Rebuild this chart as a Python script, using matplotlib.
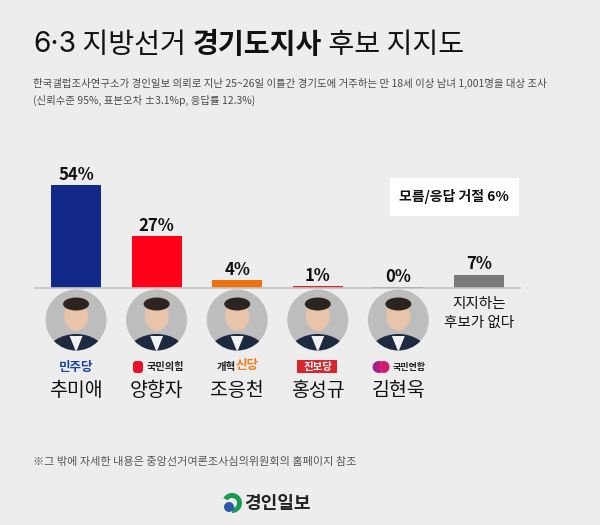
import matplotlib
matplotlib.use("Agg")
import matplotlib.pyplot as plt
import matplotlib.patches as patches
from matplotlib.transforms import blended_transform_factory

plt.rcParams['font.family'] = ['Noto Sans CJK KR', 'DejaVu Sans']

# 데이터
candidates = ['추미애', '양향자', '조응천', '홍성규', '김현욱', '지지하는\n후보가 없다']
support = [54, 27, 4, 1, 0, 7]
bar_colors = ['#13298a', '#ff0019', '#ec7410', '#d8262f', '#5b5f8c', '#7a7a7a']
parties = ['민주당', '국민의힘', '개혁신당', '진보당', '국민연합', '']
unknown_label = '모름/응답 거절 6%'

title_parts = [('6·3', 'normal'), (' 지방선거 ', 'normal'), ('경기도지사', 'bold'), (' 후보 지지도', 'normal')]
subtitle = ('한국갤럽조사연구소가 경인일보 의뢰로 지난 25~26일 이틀간 경기도에 거주하는 만 18세 이상 남녀 1,001명을 대상 조사\n'
            '(신뢰수준 95%, 표본오차 ±3.1%p, 응답률 12.3%)')
footnote = '※그 밖에 자세한 내용은 중앙선거여론조사심의위원회의 홈페이지 참조'

W, H = 600, 525
BG = '#ededed'
fig = plt.figure(figsize=(W / 100, H / 100), dpi=100, facecolor=BG)


def fy(y):
    # 위에서부터의 픽셀 -> figure 비율
    return 1 - y / H


# 제목
renderer = fig.canvas.get_renderer()
x0 = 33
for txt, wt in title_parts:
    fam = ['Inter', 'Noto Sans CJK KR'] if txt == '6·3' else ['Noto Sans CJK KR', 'DejaVu Sans']
    t = fig.text(x0 / W, fy(45), txt, fontsize=20.3, fontweight=wt, color='#111111', va='center', ha='left',
                 family=fam)
    bb = t.get_window_extent(renderer)
    x0 += bb.width
fig.text(33 / W, fy(92), subtitle, fontsize=7.5, color='#4a4a4a', va='center', ha='left', linespacing=1.6)

# 막대 축
ax = fig.add_axes([35 / W, fy(288), 485 / W, (60 * 1.91) / H])
ax.set_facecolor('none')
ax.set_xlim(-0.51, 5.51)
ax.set_ylim(0, 60)
for s in ['top', 'right', 'left']:
    ax.spines[s].set_visible(False)
ax.spines['bottom'].set_color('#c4c4c4')
ax.spines['bottom'].set_linewidth(1.2)
ax.set_xticks([])
ax.set_yticks([])

xs = list(range(len(support)))
heights = [max(v, 0.5) for v in support]
ax.bar(xs, heights, width=0.62, color=bar_colors, zorder=2)
for x, v, h in zip(xs, support, heights):
    ax.text(x, h + 0.6, f'{v}%', ha='center', va='bottom', fontsize=12, fontweight='bold', color='#111111')

# 모름/응답 거절 박스
fig.patches.append(patches.Rectangle((390 / W, fy(216)), 129 / W, 38 / H, transform=fig.transFigure,
                                     facecolor='white', edgecolor='none'))
fig.text(454 / W, fy(197), unknown_label, ha='center', va='center', fontsize=10, fontweight='bold', color='#111111')

# 후보 사진 자리 (원형)
tr = blended_transform_factory(ax.transData, fig.transFigure)
dx = 61 / 80.6
dy = 61 / H
for i in range(5):
    c = patches.Ellipse((i, fy(320)), dx, dy, transform=tr, facecolor='#bdbdbd', edgecolor='none')
    fig.add_artist(c)
    parts = [
        patches.Ellipse((i, fy(354)), dx * 0.95, 40 / H, transform=tr, facecolor='#1e2a40'),
        patches.Polygon([(i - 0.08, fy(336)), (i + 0.08, fy(336)), (i, fy(352))], closed=True,
                        transform=tr, facecolor='#f2f2f2'),
        patches.Ellipse((i, fy(316)), 24 / 80.6, 30 / H, transform=tr, facecolor='#e8c4aa'),
        patches.Ellipse((i, fy(304)), 26 / 80.6, 13 / H, transform=tr, facecolor='#2b2420'),
    ]
    for p in parts:
        fig.add_artist(p)
        p.set_clip_path(c)

# 정당 로고 (텍스트)
ly = fy(367)
fig.text(76 / W, ly, '민주당', ha='center', va='center', fontsize=9, fontweight='bold', color='#1740a8')
fig.add_artist(patches.FancyBboxPatch((133 / W, fy(373)), 10 / W, 12 / H,
                                      boxstyle='round,pad=0,rounding_size=0.006',
                                      transform=fig.transFigure, facecolor='#e8102a', edgecolor='none'))
fig.text(165 / W, ly, '국민의힘', ha='center', va='center', fontsize=7.3, fontweight='bold', color='#222222')
fig.text(236 / W, ly, '개혁', ha='right', va='center', fontsize=7.5, fontweight='bold', color='#222222')
fig.text(236 / W, ly + 2 / H, '신당', ha='left', va='center', fontsize=9, fontweight='bold', color='#f07a14')
fig.add_artist(patches.Rectangle((297 / W, fy(373)), 40 / W, 13 / H, transform=fig.transFigure,
                                 facecolor='#d8262f', edgecolor='none'))
fig.text(318 / W, ly, '진보당', ha='center', va='center', fontsize=7.5, fontweight='bold', color='white')
fig.add_artist(patches.Ellipse((379 / W, ly), 13 / W, 12 / H, transform=fig.transFigure, facecolor='#a0208e'))
fig.add_artist(patches.Ellipse((384 / W, ly), 11 / W, 12 / H, transform=fig.transFigure, facecolor='#d11c6f'))
fig.text(393 / W, ly, '국민연합', ha='left', va='center', fontsize=6.5, fontweight='bold', color='#222222')

# 후보 이름
for i, name in enumerate(candidates[:5]):
    ax.text(i, fy(391), name, transform=tr, ha='center', va='center', fontsize=14, color='#111111')
ax.text(5, fy(313), candidates[5], transform=tr, ha='center', va='center', fontsize=10.5, color='#111111',
        linespacing=1.45)

# 각주
fig.text(33 / W, fy(462), footnote, ha='left', va='center', fontsize=8, color='#555555')

# 하단 로고
fig.add_artist(patches.Wedge((232, H - 503), 10, -90, 150, width=5, transform=None, facecolor='#1a9a52'))
fig.add_artist(patches.Circle((229, H - 507), 5, transform=None, facecolor='#2b5aa8'))
fig.text(244 / W, fy(503), '경인일보', ha='left', va='center', fontsize=13, fontweight='bold', color='#222222')

fig.savefig('out.png', dpi=100, facecolor=BG)
